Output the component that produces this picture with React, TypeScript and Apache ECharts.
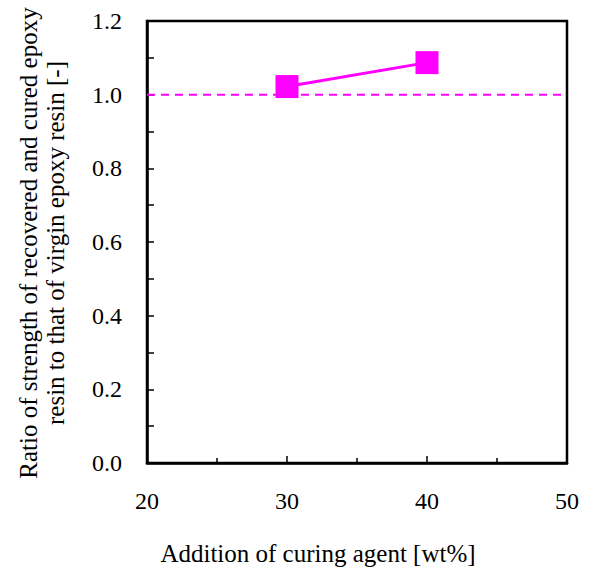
import React, { useEffect, useRef } from "react";
import * as echarts from "echarts";

const curingAgent = [30, 40];
const strengthRatio = [1.022, 1.087];
const referenceX = [20, 50];
const referenceY = [1.0, 1.0];
const xTicks = [20, 30, 40, 50];
const yTicks = [0, 0.2, 0.4, 0.6, 0.8, 1.0, 1.2];

export default function App() {
  const ref = useRef<HTMLDivElement>(null);
  useEffect(() => {
    const chart = echarts.init(ref.current!, undefined, { renderer: "svg" });
    const font = "'Liberation Serif', 'Times New Roman', serif";
    chart.setOption({
      animation: false,
      textStyle: { fontFamily: font },
      grid: {
        left: 147,
        top: 21,
        right: 25,
        bottom: 105,
        show: true,
        borderColor: "#000",
        borderWidth: 2.5,
      },
      xAxis: {
        type: "value",
        min: xTicks[0],
        max: xTicks[xTicks.length - 1],
        interval: 10,
        axisLine: { show: true, lineStyle: { color: "#000", width: 2.5 } },
        axisTick: { show: true, inside: true, length: 7, lineStyle: { color: "#000", width: 1.5 } },
        minorTick: { show: true, splitNumber: 2, length: 5, lineStyle: { color: "#000", width: 1.5 } },
        splitLine: { show: false },
        axisLabel: {
          fontFamily: font,
          fontSize: 24,
          color: "#000",
          margin: 26,
          formatter: (v: number) => String(v),
        },
      },
      yAxis: {
        type: "value",
        min: yTicks[0],
        max: yTicks[yTicks.length - 1],
        interval: 0.2,
        axisLine: { show: true, lineStyle: { color: "#000", width: 2.5 } },
        axisTick: { show: true, inside: true, length: 7, lineStyle: { color: "#000", width: 1.5 } },
        minorTick: { show: true, splitNumber: 2, length: 7, lineStyle: { color: "#000", width: 1.5 } },
        splitLine: { show: false },
        axisLabel: {
          fontFamily: font,
          fontSize: 24,
          color: "#000",
          margin: 25,
          formatter: (v: number) => v.toFixed(1),
        },
      },
      graphic: [
        {
          type: "text",
          style: {
            x: 318,
            y: 553,
            text: "Addition of curing agent [wt%]",
            fontFamily: font,
            fontSize: 25,
            fill: "#000",
            textAlign: "center",
            textVerticalAlign: "middle",
          },
        },
        {
          type: "text",
          x: 42,
          y: 243,
          rotation: Math.PI / 2,
          style: {
            x: 0,
            y: 0,
            text: "Ratio of strength of recovered and cured epoxy\nresin to that of virgin epoxy resin [-]",
            fontFamily: font,
            fontSize: 25,
            lineHeight: 27,
            fill: "#000",
            textAlign: "center",
            textVerticalAlign: "middle",
          },
        },
      ],
      series: [
        {
          type: "line",
          data: referenceX.map((x, i) => [x, referenceY[i]]),
          symbol: "none",
          lineStyle: { color: "#ff00ff", width: 2, type: [8, 6] },
          silent: true,
          z: 1,
        },
        {
          type: "line",
          data: curingAgent.map((x, i) => [x, strengthRatio[i]]),
          symbol: "rect",
          symbolSize: 23,
          itemStyle: { color: "#ff00ff" },
          lineStyle: { color: "#ff00ff", width: 3 },
          z: 2,
        },
      ],
    });
    return () => chart.dispose();
  }, []);
  return (
    <div
      ref={ref}
      style={{ position: "fixed", left: 0, top: 0, width: 592, height: 568, background: "#fff" }}
    />
  );
}
